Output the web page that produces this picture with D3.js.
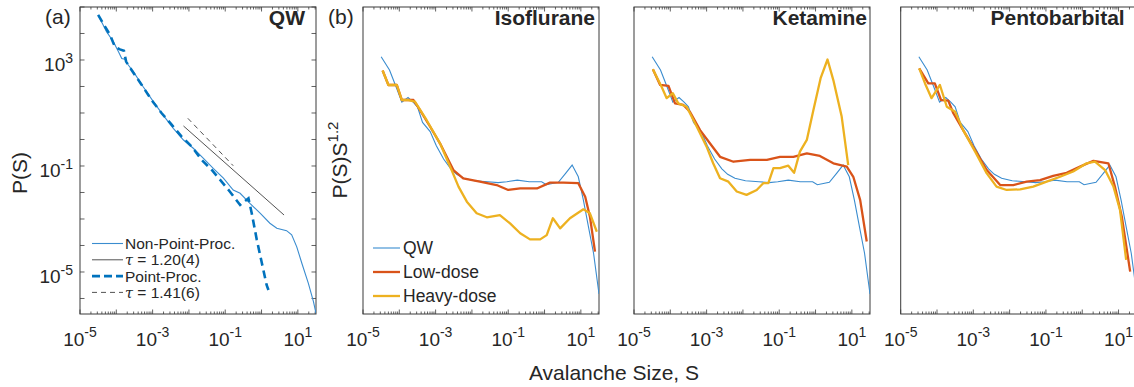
<!DOCTYPE html>
<html><head><meta charset="utf-8">
<script src="https://cdn.jsdelivr.net/npm/d3@7"></script>
<style>
body{margin:0;background:#fff}
svg{display:block}
text{font-family:"Liberation Sans",Arial,Helvetica,sans-serif;fill:#262626}
</style>
</head><body>
<svg id="c" width="1134" height="387"></svg>
<script>
// ---------------- DATA (log10 S, log10 P or relative log value) ----------------
const xTickExponents = [-5, -3, -1, 1];
const yTickExponentsA = [3, -1, -5];
const panelTitles = ["QW", "Isoflurane", "Ketamine", "Pentobarbital"];
const panelTags = ["(a)", "(b)"];
const legendLabelsA = ["Non-Point-Proc.", "= 1.20(4)", "Point-Proc.", "= 1.41(6)"];
const legendLabelsB = ["QW", "Low-dose", "Heavy-dose"];

// Panel (a): [log10 S, log10 P(S)]
const qwNonPoint = [[-4.50,4.70],[-4.27,4.07],[-4.08,3.69],[-3.94,3.31],[-3.85,3.06],[-3.76,3.03],[-3.67,2.81],[-3.53,2.56],[-3.26,1.99],[-2.98,1.43],[-2.71,0.92],[-2.43,0.42],[-2.15,-0.02],[-1.88,-0.33],[-1.60,-0.71],[-1.33,-1.09],[-1.05,-1.46],[-0.78,-1.91],[-0.59,-2.03],[-0.32,-2.41],[-0.04,-2.78],[0.23,-3.16],[0.42,-3.35],[0.69,-3.44],[0.83,-3.60],[0.97,-4.05],[1.11,-4.67],[1.29,-5.43],[1.43,-6.12],[1.50,-6.56]];
const qwPoint = [[-4.50,4.70],[-4.31,4.26],[-4.17,3.94],[-4.04,3.50],[-3.90,3.40],[-3.79,3.35],[-3.73,2.94],[-3.58,2.62],[-3.30,2.06],[-3.03,1.49],[-2.75,0.99],[-2.47,0.55],[-2.20,0.11],[-1.92,-0.27],[-1.65,-0.77],[-1.37,-1.15],[-1.10,-1.59],[-0.87,-1.97],[-0.59,-2.47],[-0.36,-2.22],[-0.27,-2.78],[-0.13,-3.79],[0.01,-4.67],[0.14,-5.49],[0.19,-5.68]];
const fitTau120 = [[-2.15,0.51],[0.62,-2.85]];
const fitTau141 = [[-2.03,0.80],[-0.78,-0.99]];

// Panels (b)-(d): [log10 S, relative log10 P(S)S^1.2 (0 = bottom, 100 = top)]
const qwScaled = [[-4.50,83.8],[-4.27,79.5],[-4.09,74.0],[-3.93,69.0],[-3.76,70.5],[-3.62,69.0],[-3.50,67.5],[-3.36,62.4],[-3.15,59.4],[-2.98,54.8],[-2.78,50.5],[-2.58,47.3],[-2.42,45.5],[-2.22,44.2],[-1.93,43.4],[-1.56,43.1],[-1.28,42.8],[-1.04,43.1],[-0.75,43.6],[-0.42,43.1],[-0.08,43.1],[0.05,42.1],[0.38,42.9],[0.58,45.8],[0.76,48.5],[0.93,44.7],[1.07,37.1],[1.21,28.4],[1.35,19.8],[1.50,6.5]];
const isoLow = [[-4.46,79.3],[-4.30,74.6],[-4.07,74.6],[-3.93,69.7],[-3.80,69.7],[-3.61,69.7],[-3.43,66.4],[-3.15,61.0],[-2.88,55.6],[-2.51,46.9],[-2.24,44.2],[-1.78,43.1],[-1.32,42.0],[-1.00,40.4],[-0.67,40.9],[-0.21,40.9],[0.15,42.8],[0.52,42.8],[0.93,42.6],[1.12,38.2],[1.25,31.7],[1.39,20.3]];
const isoHeavy = [[-4.46,79.3],[-4.30,74.6],[-4.07,74.6],[-3.93,69.7],[-3.75,69.7],[-3.57,69.2],[-3.25,63.2],[-2.88,55.6],[-2.56,46.9],[-2.37,41.5],[-2.14,36.6],[-1.87,32.8],[-1.59,31.5],[-1.23,32.2],[-0.95,29.5],[-0.67,26.3],[-0.40,24.3],[-0.12,24.3],[0.06,25.7],[0.23,31.2],[0.43,27.9],[0.70,31.2],[1.07,34.1],[1.25,32.8],[1.44,26.8]];
const ketLow = [[-4.48,79.7],[-4.28,74.6],[-4.05,74.3],[-3.87,68.6],[-3.64,68.1],[-3.46,65.9],[-3.18,59.9],[-2.91,55.6],[-2.63,51.2],[-2.26,49.6],[-1.80,50.2],[-1.34,50.2],[-0.98,51.2],[-0.61,51.2],[-0.24,52.3],[0.12,51.5],[0.49,49.1],[0.86,48.0],[1.04,44.7],[1.23,37.1],[1.41,23.6]];
const ketHeavy = [[-4.48,79.7],[-4.24,74.0],[-4.10,70.3],[-3.93,71.9],[-3.78,68.6],[-3.55,67.5],[-3.27,61.0],[-3.00,54.5],[-2.82,49.1],[-2.63,44.2],[-2.40,43.1],[-2.17,39.9],[-1.90,38.8],[-1.62,40.4],[-1.44,42.6],[-1.30,42.6],[-1.16,47.5],[-0.98,47.5],[-0.75,48.3],[-0.59,46.0],[-0.43,52.9],[-0.24,56.7],[-0.06,66.4],[0.14,76.8],[0.33,82.9],[0.49,76.2],[0.72,64.3],[0.90,48.5]];
const pentoLow = [[-4.49,80.0],[-4.24,75.1],[-4.06,75.1],[-3.89,69.7],[-3.69,69.5],[-3.55,65.4],[-3.28,59.9],[-2.95,53.4],[-2.63,46.9],[-2.26,42.0],[-1.90,42.0],[-1.53,43.1],[-1.16,43.6],[-0.80,45.0],[-0.43,46.0],[-0.06,48.0],[0.31,49.9],[0.72,49.1],[0.90,41.5],[1.09,31.7],[1.32,13.8]];
const pentoHeavy = [[-4.49,80.0],[-4.33,75.1],[-4.15,70.3],[-3.92,74.6],[-3.73,67.5],[-3.50,65.9],[-3.28,59.9],[-2.95,52.9],[-2.63,45.8],[-2.36,41.5],[-2.08,40.4],[-1.71,40.6],[-1.35,41.5],[-0.98,43.1],[-0.61,44.7],[-0.25,46.4],[0.12,49.1],[0.35,49.6],[0.63,46.9],[0.86,41.5],[1.04,33.9],[1.21,17.6]];

// ---------------- LAYOUT ----------------
const W = 236, TOP = 7, BOT = 314;
const lefts = [80, 363, 634, 900.7];
const titleInsets = [11, 4, 3, 12];
const C = {blue:"#0072BD", qw:"#3a8ccf", red:"#D95319", yellow:"#EDB120", gray:"#404040", axis:"#3a3a3a"};

const svg = d3.select("#c");
const defs = svg.append("defs");
lefts.forEach((l,i)=>{
  defs.append("clipPath").attr("id","clip"+i).append("rect")
    .attr("x",l).attr("y",TOP).attr("width",W).attr("height",BOT-TOP);
});

const makeX = l => d3.scaleLog().domain([1e-5, 10**1.5]).range([l, l+W]);
const yA = d3.scaleLog().domain([10**-6.585, 1e5]).range([BOT, TOP]);
const yB = d3.scaleLinear().domain([0,100]).range([BOT, TOP]);

function supLabel(sel, base, exp, baseSize, supSize, supDy){
  sel.append("tspan").text(base).attr("font-size", baseSize);
  sel.append("tspan").text(exp).attr("font-size", supSize).attr("dy", supDy);
}

function drawFrame(i){
  const l = lefts[i], x = makeX(l);
  const g = svg.append("g");
  const ticks = [];
  for(let e=-5;e<=1;e++){
    for(let k=1;k<=9;k++){
      const v = k*10**e;
      if(v>=1e-5 && v<=10**1.5) ticks.push({v, major:k===1});
    }
  }
  ticks.forEach(t=>{
    const px = x(t.v), len = t.major?4.5:2.5;
    g.append("line").attr("x1",px).attr("x2",px).attr("y1",BOT).attr("y2",BOT-len)
      .attr("stroke",C.axis).attr("stroke-width",0.8);
    g.append("line").attr("x1",px).attr("x2",px).attr("y1",TOP).attr("y2",TOP+len)
      .attr("stroke",C.axis).attr("stroke-width",0.8);
  });
  g.append("rect").attr("x",l).attr("y",TOP).attr("width",W).attr("height",BOT-TOP)
    .attr("fill","none").attr("stroke",C.axis).attr("stroke-width",1);
  xTickExponents.forEach(e=>{
    const t = g.append("text").attr("x", x(10**e)).attr("y", 345.5).attr("text-anchor","middle");
    supLabel(t, "10", String(e), "19px", "14px", -8.5);
  });
  g.append("text").attr("x", l+W-titleInsets[i]).attr("y", 25).attr("text-anchor","end")
    .attr("font-weight","bold").attr("font-size","21px").attr("fill","#000").text(panelTitles[i]);
  return x;
}

// ---------------- PANEL (a) ----------------
{
  const x = drawFrame(0);
  const l = lefts[0];
  const g = svg.append("g");
  for(let e=-6;e<=5;e++){
    const py = yA(10**e);
    g.append("line").attr("x1",l).attr("x2",l+4.5).attr("y1",py).attr("y2",py).attr("stroke",C.axis).attr("stroke-width",0.8);
    g.append("line").attr("x1",l+W).attr("x2",l+W-4.5).attr("y1",py).attr("y2",py).attr("stroke",C.axis).attr("stroke-width",0.8);
  }
  yTickExponentsA.forEach(e=>{
    const t = g.append("text").attr("x", l-7).attr("y", yA(10**e)+11.5).attr("text-anchor","end");
    supLabel(t, "10", String(e), "19px", "14px", -8.5);
  });
  const line = d3.line().x(d=>x(10**d[0])).y(d=>yA(10**d[1]));
  const pg = svg.append("g").attr("clip-path","url(#clip0)");
  pg.append("path").datum(qwNonPoint).attr("d",line).attr("fill","none").attr("stroke",C.qw).attr("stroke-width",1.1);
  pg.append("path").datum(fitTau120).attr("d",line).attr("fill","none").attr("stroke",C.gray).attr("stroke-width",0.9);
  pg.append("path").datum(qwPoint).attr("d",line).attr("fill","none").attr("stroke",C.blue).attr("stroke-width",2.6).attr("stroke-dasharray","8,5");
  pg.append("path").datum(fitTau141).attr("d",line).attr("fill","none").attr("stroke",C.gray).attr("stroke-width",0.9).attr("stroke-dasharray","5,4");
  const styles = [
    {c:C.qw,w:1.1,d:null},{c:C.gray,w:0.9,d:null},{c:C.blue,w:2.6,d:"8,4"},{c:C.gray,w:0.9,d:"5,4"}
  ];
  legendLabelsA.forEach((lab,i)=>{
    const cy = 243.5 + i*16.3;
    g.append("line").attr("x1",92).attr("x2",123).attr("y1",cy).attr("y2",cy)
      .attr("stroke",styles[i].c).attr("stroke-width",styles[i].w).attr("stroke-dasharray",styles[i].d);
    const t = g.append("text").attr("x",125).attr("y",cy+5.5).attr("font-size","15.5px");
    if(i===1||i===3){
      t.append("tspan").attr("font-style","italic").attr("font-family","'DejaVu Serif',serif").attr("font-size","14.5px").text("τ");
      t.append("tspan").text(" "+lab);
    } else t.text(lab);
  });
  svg.append("text").attr("x",45).attr("y",24).attr("font-size","21px").text(panelTags[0]);
  svg.append("text").attr("transform","translate(27,173) rotate(-90)").attr("text-anchor","middle")
    .attr("font-size","21px").text("P(S)");
}

// ---------------- PANELS (b)-(d) ----------------
const drugSeries = [[isoLow, isoHeavy],[ketLow, ketHeavy],[pentoLow, pentoHeavy]];
drugSeries.forEach((pair, j)=>{
  const i = j+1;
  const x = drawFrame(i);
  const line = d3.line().x(d=>x(10**d[0])).y(d=>yB(d[1]));
  const pg = svg.append("g").attr("clip-path",`url(#clip${i})`);
  pg.append("path").datum(qwScaled).attr("d",line).attr("fill","none").attr("stroke",C.qw).attr("stroke-width",1.1);
  pg.append("path").datum(pair[0]).attr("d",line).attr("fill","none").attr("stroke",C.red).attr("stroke-width",2.3).attr("stroke-linejoin","round");
  pg.append("path").datum(pair[1]).attr("d",line).attr("fill","none").attr("stroke",C.yellow).attr("stroke-width",2.3).attr("stroke-linejoin","round");
});

// legend (b)
{
  const g = svg.append("g");
  const cols = [C.qw, C.red, C.yellow], ws = [1.1, 2.3, 2.3];
  legendLabelsB.forEach((lab,i)=>{
    const cy = 248 + i*24;
    g.append("line").attr("x1",373).attr("x2",400).attr("y1",cy).attr("y2",cy).attr("stroke",cols[i]).attr("stroke-width",ws[i]);
    g.append("text").attr("x",403).attr("y",cy+6).attr("font-size","17.5px").text(lab);
  });
  svg.append("text").attr("x",328).attr("y",24).attr("font-size","21px").text(panelTags[1]);
  const yl = svg.append("text").attr("transform","translate(347,160) rotate(-90)").attr("text-anchor","middle");
  supLabel(yl, "P(S)S", "1.2", "21px", "15px", -9);
}

svg.append("text").attr("x",614).attr("y",380).attr("text-anchor","middle").attr("font-size","21px").text("Avalanche Size, S");
</script>
</body></html>
